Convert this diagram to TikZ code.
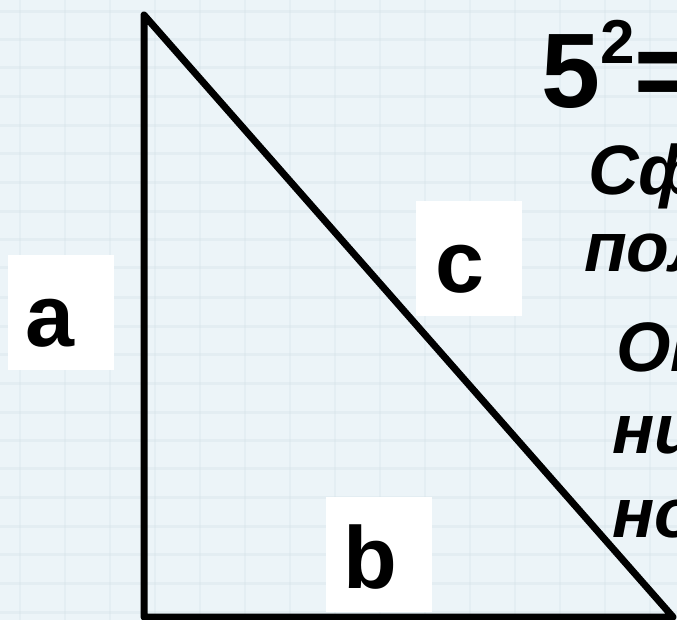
\documentclass[tikz,border=0pt]{standalone}
\usepackage{fontspec}
\setmainfont{Liberation Sans}
\definecolor{bgbase}{RGB}{236,244,248}
\definecolor{bggrid}{RGB}{212,225,232}
\tikzset{
  side/.style={line width=7pt, line join=round, line cap=butt},
  labelbox/.style={rectangle, fill=white, draw=none, inner sep=0pt, minimum width=106pt, minimum height=115pt},
  letter/.style={anchor=base west, inner sep=0pt, font=\fontsize{88}{88}\selectfont\bfseries},
  formula/.style={anchor=base west, inner sep=0pt, font=\fontsize{106}{106}\selectfont\bfseries},
  ruline/.style={anchor=base west, inner sep=0pt, font=\fontsize{70}{70}\selectfont\bfseries\itshape}
}
\begin{document}
\begin{tikzpicture}[x=1pt, y=-1pt]
\useasboundingbox (0,0) rectangle (677,620);
\clip (0,0) rectangle (677,620);
% background
\fill[bgbase] (0,0) rectangle (677,620);
\foreach \yy in {12,40,68,97,126,154,183,212,240,268,297,326,354,383,412,440,468,497,526,554,583,612}
  \draw[bggrid, line width=3pt, opacity=0.35] (0,\yy) -- (677,\yy);
\foreach \xx in {20,65,110,155,200,245,290,335,380,425,470,515,560,605,650}
  \draw[bggrid, line width=2pt, opacity=0.3] (\xx,0) -- (\xx,620);
% triangle
\coordinate (A) at (144,15);
\coordinate (C) at (144,617);
\coordinate (B) at (673,617);
\draw[side] (A) -- (C) -- (B) -- cycle;
% label boxes
\node[labelbox] (boxa) at (61,312.5) {};
\node[labelbox] (boxc) at (469,258.5) {};
\node[labelbox] (boxb) at (379,554.5) {};
\node[letter] (la) at (25,346) {a};
\node[letter] (lc) at (435,292) {c};
\node[letter] (lb) at (343,588) {b};
% right-hand text
\node[formula] (f) at (541,108) {5\raisebox{44pt}{\fontsize{62}{62}\selectfont 2}=};
\node[ruline] (t1) at (588,195) {Сф};
\node[ruline] (t2) at (584,272) {пол};
\node[ruline] (t3) at (616,371) {От};
\node[ruline] (t4) at (612,453) {ни};
\node[ruline] (t5) at (612,537) {но};
\end{tikzpicture}
\end{document}
